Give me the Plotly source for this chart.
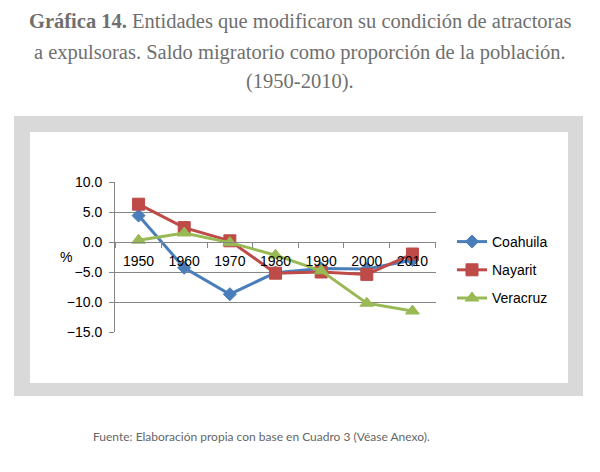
import plotly.graph_objects as go

years = ["1950", "1960", "1970", "1980", "1990", "2000", "2010"]
coahuila = [4.4, -4.3, -8.7, -5.1, -4.4, -4.5, -3.0]
nayarit = [6.3, 2.4, 0.2, -5.2, -5.0, -5.4, -2.0]
veracruz = [0.3, 1.5, -0.1, -2.2, -4.8, -10.2, -11.5]

series = [
    ("Coahuila", coahuila, "#4A7EBB", "diamond", 10),
    ("Nayarit", nayarit, "#BE4B48", "square", 12),
    ("Veracruz", veracruz, "#98B954", "triangle-up", 12),
]

W, H = 600, 472
L, R, T, B = 115, 436, 182, 332  # plot area in pixels

def px(x):
    return (x - L) / (R - L)

def py(y):
    return (B - y) / (B - T)

fig = go.Figure()
for i, (name, vals, col, sym, sz) in enumerate(series):
    fig.add_trace(go.Scatter(
        x=years, y=vals, name=name, mode="lines+markers",
        line=dict(color=col, width=3),
        marker=dict(symbol=sym, size=sz, color=col, line=dict(color=col, width=1)),
        legendgroup=name,
    ))

font_sans = "Liberation Sans, Arial, sans-serif"

fig.update_layout(
    width=W, height=H,
    margin=dict(l=L, r=W - R, t=T, b=H - B, pad=0),
    paper_bgcolor="white", plot_bgcolor="white",
    showlegend=True,
    legend=dict(x=px(452), y=py(226), xanchor="left", yanchor="top",
                font=dict(family=font_sans, size=14, color="black"),
                tracegroupgap=7, traceorder="grouped",
                bgcolor="rgba(0,0,0,0)", itemwidth=30),
    xaxis=dict(type="category", anchor="free", position=0.6,
               showline=True, linecolor="#868686", linewidth=1,
               ticks="outside", ticklen=5, tickcolor="#868686", tickson="boundaries",
               ticklabelstandoff=6,
               showgrid=False, tickfont=dict(family=font_sans, size=14, color="black")),
    yaxis=dict(range=[-15, 10], dtick=5, tickformat=".1f",
               showline=True, linecolor="#868686", linewidth=1,
               ticks="outside", ticklen=5, tickcolor="#868686",
               ticklabelstandoff=4,
               showgrid=True, gridcolor="#868686", gridwidth=1, zeroline=False,
               tickfont=dict(family=font_sans, size=14, color="black")),
)

# frame
fig.add_shape(type="rect", xref="paper", yref="paper",
              x0=px(14), x1=px(583), y0=py(396), y1=py(116),
              fillcolor="#d9d9d9", line=dict(width=0), layer="below")
fig.add_shape(type="rect", xref="paper", yref="paper",
              x0=px(30), x1=px(568), y0=py(383), y1=py(132),
              fillcolor="white", line=dict(width=0), layer="below")

fig.add_annotation(text="%", xref="paper", yref="paper", x=px(58), y=py(257),
                   showarrow=False, font=dict(family=font_sans, size=14, color="black"))

title_lines = [
    "<b>Gráfica 14.</b> Entidades que modificaron su condición de atractoras",
    "a expulsoras. Saldo migratorio como proporción de la población.",
    "(1950-2010).",
]
for t, yy in zip(title_lines, [21, 52, 82]):
    fig.add_annotation(text=t, xref="paper", yref="paper", x=px(300), y=py(yy),
                       showarrow=False, xanchor="center", yanchor="middle",
                       font=dict(family="Liberation Serif, serif", size=20.5, color="#6f6f6f"))

fig.add_annotation(text="Fuente: Elaboración propia con base en Cuadro 3 (Véase Anexo).",
                   xref="paper", yref="paper", x=px(261), y=py(436),
                   showarrow=False, xanchor="center", yanchor="middle",
                   font=dict(family="Lato, sans-serif", size=12, color="#666666"))

fig.write_html("out.html")
